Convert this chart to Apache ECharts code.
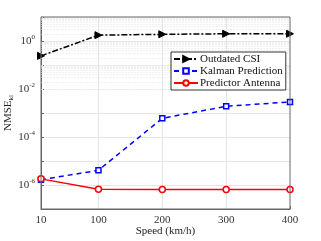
<!DOCTYPE html>
<html><head><meta charset="utf-8">
<script src="https://cdn.jsdelivr.net/npm/echarts@6/dist/echarts.min.js"></script>
<style>html,body{margin:0;padding:0;background:#fff}#c{width:321px;height:241px}</style>
</head><body><div id="c"></div>
<script>
const speeds = [10, 100, 200, 300, 400];
const outdatedCSI = [0.24, 1.75, 1.9, 2.0, 2.0];
const kalman = [1.65e-6, 4.1e-6, 6.0e-4, 1.9e-3, 2.9e-3];
const predictor = [1.8e-6, 6.6e-7, 6.5e-7, 6.5e-7, 6.5e-7];
const xTicks = [10, 100, 200, 300, 400];
const yLabelExps = [-6, -4, -2, 0];
const seriesNames = ['Outdated CSI', 'Kalman Prediction', 'Predictor Antenna'];

const font = 'Liberation Serif';
const minorVals = [];
for (let e = -7; e < 1; e++) for (let m = 1; m <= 9; m++) {
  const v = m * Math.pow(10, e);
  if (!(m === 1 && yLabelExps.includes(e))) minorVals.push(v);
}
minorVals.push(10);
const pair = (ys) => speeds.map((s, i) => [s, ys[i]]);
const sup = {fontFamily: font, fontSize: 7, color: '#333', verticalAlign: 'bottom', padding: [0,0,7,0]};
const chart = echarts.init(document.getElementById('c'), null, {renderer: 'canvas'});
chart.setOption({
  animation: false,
  grid: {left: 41, right: 31, top: 17, bottom: 32, outerBoundsMode: 'none', containLabel: false,
    show: true, borderColor: '#666', borderWidth: 1, z: 10},
  xAxis: {
    type: 'value', min: 10, max: 400,
    name: 'Speed (km/h)', nameLocation: 'middle', nameGap: 17, nameMoveOverlap: false,
    nameTextStyle: {fontFamily: font, fontSize: 11, color: '#222'},
    axisLine: {show: true, lineStyle: {color: '#666'}},
    axisTick: {show: true, inside: true, length: 3, customValues: xTicks, lineStyle: {color: '#666'}},
    axisLabel: {customValues: xTicks, fontFamily: font, fontSize: 11, color: '#333', margin: 6},
    splitLine: {show: false}
  },
  yAxis: {
    type: 'log', logBase: 10, min: 1e-7, max: 10,
    name: '{a|NMSE}{b|kl}', nameLocation: 'middle', nameGap: 26, nameRotate: 90, nameMoveOverlap: false,
    nameTextStyle: {rich: {a: {fontFamily: font, fontSize: 11, color: '#222'}, b: {fontFamily: font, fontSize: 7, color: '#222', verticalAlign: 'top', padding: [6,0,0,0]}}},
    axisLine: {show: true, lineStyle: {color: '#666'}},
    axisTick: {show: true, inside: true, length: 3, lineStyle: {color: '#666'}},
    axisLabel: {
      fontFamily: font, fontSize: 11, color: '#333', margin: 6,
      formatter: (v) => {
        const e = Math.round(Math.log10(v));
        if (!yLabelExps.includes(e)) return '';
        return '{b|10}{s|' + e + '}';
      },
      rich: {b: {fontFamily: font, fontSize: 11, color: '#333'}, s: sup}
    },
    splitLine: {show: true, lineStyle: {color: '#e6e6e6', width: 1}}
  },
  legend: {
    orient: 'vertical', left: 171, top: 52, z: 50,
    backgroundColor: '#fff', borderColor: '#333', borderWidth: 1,
    padding: [1, 3, 1, 2], itemGap: 0, itemWidth: 24, itemHeight: 7,
    textStyle: {fontFamily: font, fontSize: 11, color: '#111', lineHeight: 12, padding: [0,0,0,-3]},
    data: seriesNames
  },
  series: [
    {
      name: 'grid', type: 'line', data: [], silent: true, z: 1,
      markLine: {silent: true, symbol: 'none', label: {show: false}, animation: false,
        lineStyle: {color: '#f0f0f0', type: [2, 1], width: 1},
        data: minorVals.map(v => ({yAxis: v}))}
    },
    {
      name: 'vgrid', type: 'line', data: [], silent: true, z: 1,
      markLine: {silent: true, symbol: 'none', label: {show: false}, animation: false,
        lineStyle: {color: '#e3e3e3', type: 'solid', width: 1},
        data: xTicks.slice(1, -1).map(v => ({xAxis: v}))}
    },
    {
      name: seriesNames[0], type: 'line', data: pair(outdatedCSI),
      symbol: 'triangle', symbolRotate: -90, symbolSize: 7,
      lineStyle: {color: '#000', width: 1.5, type: [6, 2, 2, 2]},
      itemStyle: {color: '#000', borderColor: '#000', borderWidth: 1}, z: 5
    },
    {
      name: seriesNames[1], type: 'line', data: pair(kalman),
      symbol: 'rect', symbolSize: 5,
      lineStyle: {color: '#0000ff', width: 1.5, type: [5, 4]},
      itemStyle: {color: '#ffffff', borderColor: '#0000ff', borderWidth: 1.5}, z: 6
    },
    {
      name: seriesNames[2], type: 'line', data: pair(predictor),
      symbol: 'circle', symbolSize: 6,
      lineStyle: {color: '#ff0000', width: 1.5},
      itemStyle: {color: '#ffffff', borderColor: '#ff0000', borderWidth: 1.5}, z: 7
    }
  ]
});
</script></body></html>
